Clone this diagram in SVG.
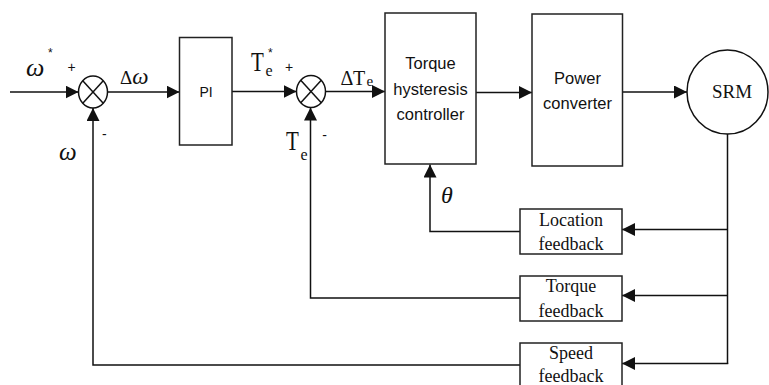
<svg xmlns="http://www.w3.org/2000/svg" width="769" height="385" viewBox="0 0 769 385">
<style>
.box{fill:#fff;stroke:#222;stroke-width:1.5}
.ln{fill:none;stroke:#111;stroke-width:1.5}
.arr{fill:none;stroke:#111;stroke-width:1.5;marker-end:url(#ah)}
.sans{font-family:"Liberation Sans",Arial,sans-serif;fill:#111}
.serif{font-family:"Liberation Serif","Times New Roman",serif;fill:#111}
.it{font-style:italic}
.mid{text-anchor:middle}
</style>
<defs>
<marker id="ah" markerUnits="userSpaceOnUse" markerWidth="13" markerHeight="13" refX="13" refY="6.5" orient="auto">
<path d="M0,0 L13,6.5 L0,13 z" fill="#111"/>
</marker>
</defs>
<rect width="769" height="385" fill="#fff"/>
<g id="connectors">
<line class="arr" x1="10" y1="92" x2="78.5" y2="92"/>
<line class="arr" x1="107.5" y1="92" x2="179.5" y2="92"/>
<line class="arr" x1="232" y1="91.5" x2="296.5" y2="91.5"/>
<line class="arr" x1="325.5" y1="91.5" x2="385" y2="91.5"/>
<line class="arr" x1="476" y1="92.5" x2="532" y2="92.5"/>
<line class="arr" x1="622.5" y1="92" x2="687" y2="92"/>
<line class="ln" x1="727.5" y1="134" x2="727.5" y2="364"/>
<line class="arr" x1="727.5" y1="229.5" x2="622" y2="229.5"/>
<line class="arr" x1="727.5" y1="295.5" x2="622" y2="295.5"/>
<line class="arr" x1="728.2" y1="363.5" x2="622" y2="363.5"/>
<polyline class="arr" points="520,231.5 430,231.5 430,164.5"/>
<polyline class="arr" points="520,298 310.5,298 310.5,107.5"/>
<polyline class="arr" points="520,365 93,365 93,108"/>
</g>
<g id="sum1">
<ellipse cx="93" cy="92" rx="14.5" ry="16" fill="#fff" stroke="#111" stroke-width="1.5"/>
<line class="ln" x1="82.75" y1="80.7" x2="103.25" y2="103.3"/>
<line class="ln" x1="82.75" y1="103.3" x2="103.25" y2="80.7"/>
</g>
<g id="sum2">
<ellipse cx="311" cy="91.5" rx="14.5" ry="16" fill="#fff" stroke="#111" stroke-width="1.5"/>
<line class="ln" x1="300.75" y1="80.2" x2="321.25" y2="102.8"/>
<line class="ln" x1="300.75" y1="102.8" x2="321.25" y2="80.2"/>
</g>
<g id="pi">
<rect class="box" x="179.5" y="37.5" width="52.5" height="107.5"/>
<text class="sans mid" x="206" y="96.7" font-size="14">PI</text>
</g>
<g id="torque-controller">
<rect class="box" x="385" y="13" width="91" height="151"/>
<text class="sans mid" x="430.5" y="69" font-size="16.5">Torque</text>
<text class="sans mid" x="430.5" y="95" font-size="16.5">hysteresis</text>
<text class="sans mid" x="430.5" y="120" font-size="16.5">controller</text>
</g>
<g id="power-converter">
<rect class="box" x="532" y="14" width="90.5" height="152"/>
<text class="sans mid" x="577.5" y="83.5" font-size="16.5">Power</text>
<text class="sans mid" x="577.5" y="108.5" font-size="16.5">converter</text>
</g>
<g id="srm">
<ellipse cx="727.5" cy="92" rx="40.5" ry="42" fill="#fff" stroke="#111" stroke-width="1.5"/>
<text class="serif mid" x="732" y="98.3" font-size="19">SRM</text>
</g>
<g id="location-feedback">
<rect class="box" x="520" y="209" width="102" height="45"/>
<text class="serif mid" x="571" y="226" font-size="18">Location</text>
<text class="serif mid" x="571" y="249.5" font-size="18">feedback</text>
</g>
<g id="torque-feedback">
<rect class="box" x="520" y="276" width="102" height="45"/>
<text class="serif mid" x="571" y="291.7" font-size="18">Torque</text>
<text class="serif mid" x="571" y="316.5" font-size="18">feedback</text>
</g>
<g id="speed-feedback">
<rect class="box" x="520" y="343" width="102" height="45"/>
<text class="serif mid" x="571" y="359.3" font-size="18">Speed</text>
<text class="serif mid" x="571" y="382" font-size="18">feedback</text>
</g>
<g id="labels">
<text class="serif it" x="26" y="76" font-size="26">ω</text>
<text class="sans" x="48" y="57" font-size="12">*</text>
<text class="sans mid" x="71.5" y="71.5" font-size="14">+</text>
<text class="sans mid" x="104.3" y="139" font-size="14">-</text>
<text class="serif" x="120" y="84.3" font-size="19">Δ<tspan class="it" font-size="23">ω</tspan></text>
<text class="serif it" x="59" y="160" font-size="25">ω</text>
<text class="serif" font-size="21" transform="translate(251,71) scale(1,1.35)">T</text>
<text class="serif" x="265.5" y="75.5" font-size="16">e</text>
<text class="sans" x="268" y="57" font-size="12">*</text>
<text class="sans mid" x="289" y="71.5" font-size="14">+</text>
<text class="sans mid" x="324.7" y="140" font-size="14">-</text>
<text class="serif" x="340.5" y="85" font-size="20">Δ</text>
<text class="serif" x="353" y="85" font-size="20">T</text>
<text class="serif" x="366.5" y="86" font-size="15">e</text>
<text class="serif" font-size="21" transform="translate(286,150) scale(1,1.35)">T</text>
<text class="serif" x="300.5" y="160" font-size="16">e</text>
<text class="serif it" x="441" y="203" font-size="24">θ</text>
</g>
</svg>
